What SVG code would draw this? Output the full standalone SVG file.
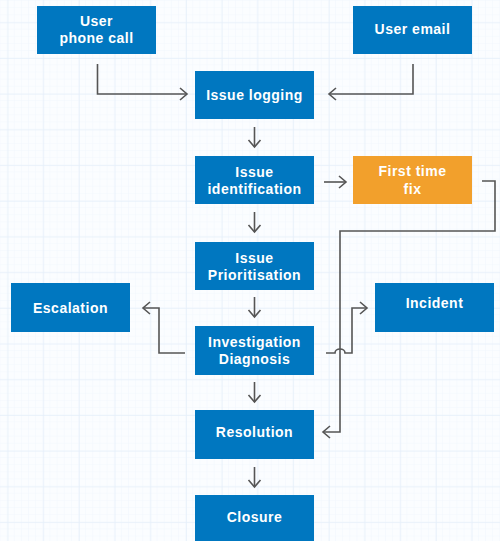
<svg xmlns="http://www.w3.org/2000/svg" width="500" height="541" viewBox="0 0 500 541">
<style>
.box{fill:#0077c0}
.orange{fill:#f2a02c}
.t{font-family:"Liberation Sans",Arial,sans-serif;font-weight:bold;font-size:14px;fill:#fff;text-anchor:middle;letter-spacing:0.5px}
.c{fill:none;stroke:#555;stroke-width:1.6}
</style>
<defs>
<pattern id="minor" width="7.14" height="7.14" patternUnits="userSpaceOnUse" x="0.4" y="1">
<path d="M7.14,0 V7.14 M0,7.14 H7.14" fill="none" stroke="#f1f7fd" stroke-width="1"/>
</pattern>
<pattern id="major" width="35.7" height="35.7" patternUnits="userSpaceOnUse" x="7.5" y="22.3">
<path d="M0,0 V35.7 M0,0 H35.7" fill="none" stroke="#e6f0fa" stroke-width="1.5"/>
</pattern>
<marker id="ah" markerUnits="userSpaceOnUse" markerWidth="16" markerHeight="16" viewBox="-10 -8 12 16" refX="0" refY="0" orient="auto">
<path d="M-7,-6 L0,0 L-7,6" fill="none" stroke="#555" stroke-width="1.6"/>
</marker>
</defs>
<rect width="500" height="541" fill="#fbfdff"/>
<rect width="500" height="541" fill="url(#minor)"/>
<rect width="500" height="541" fill="url(#major)"/>

<g id="connectors">
<path class="c" d="M97.5,64 V94 H187" marker-end="url(#ah)"/>
<path class="c" d="M413,64 V94 H329" marker-end="url(#ah)"/>
<path class="c" d="M254.5,127 V147" marker-end="url(#ah)"/>
<path class="c" d="M254.5,212 V232" marker-end="url(#ah)"/>
<path class="c" d="M254.5,297 V317" marker-end="url(#ah)"/>
<path class="c" d="M254.5,382 V402" marker-end="url(#ah)"/>
<path class="c" d="M254.5,467 V487" marker-end="url(#ah)"/>
<path class="c" d="M324,182 H346" marker-end="url(#ah)"/>
<path class="c" d="M482,181 H495 V231 H340 V432 H323" marker-end="url(#ah)"/>
<path class="c" d="M326,353 H335 A5,4 0 0 1 345,353 H352 V308 H367" marker-end="url(#ah)"/>
<path class="c" d="M185,353 H159 V308 H143" marker-end="url(#ah)"/>
</g>

<g id="user-phone-call"><rect class="box" x="37" y="6" width="119" height="48"/><text class="t" x="96.5" y="26">User</text><text class="t" x="96.5" y="43.3">phone call</text></g>
<g id="user-email"><rect class="box" x="353" y="6" width="119" height="48"/><text class="t" x="412.5" y="34">User email</text></g>
<g id="issue-logging"><rect class="box" x="195" y="71" width="119" height="48"/><text class="t" x="254.5" y="100">Issue logging</text></g>
<g id="issue-identification"><rect class="box" x="195" y="156" width="119" height="48"/><text class="t" x="254.5" y="176.5">Issue</text><text class="t" x="254.5" y="194">identification</text></g>
<g id="first-time-fix"><rect class="orange" x="353" y="156" width="119" height="48"/><text class="t" x="412.5" y="176">First time</text><text class="t" x="412.5" y="193.5">fix</text></g>
<g id="issue-prioritisation"><rect class="box" x="195" y="242" width="119" height="48"/><text class="t" x="254.5" y="262.7">Issue</text><text class="t" x="254.5" y="280">Prioritisation</text></g>
<g id="escalation"><rect class="box" x="11" y="283" width="119" height="49"/><text class="t" x="70.5" y="313">Escalation</text></g>
<g id="investigation-diagnosis"><rect class="box" x="195" y="326" width="119" height="49"/><text class="t" x="254.5" y="346.7">Investigation</text><text class="t" x="254.5" y="363.5">Diagnosis</text></g>
<g id="incident"><rect class="box" x="375" y="283" width="119" height="49"/><text class="t" x="434.5" y="307.7">Incident</text></g>
<g id="resolution"><rect class="box" x="195" y="410" width="119" height="49"/><text class="t" x="254.5" y="437">Resolution</text></g>
<g id="closure"><rect class="box" x="195" y="495" width="119" height="49"/><text class="t" x="254.5" y="522">Closure</text></g>
</svg>
